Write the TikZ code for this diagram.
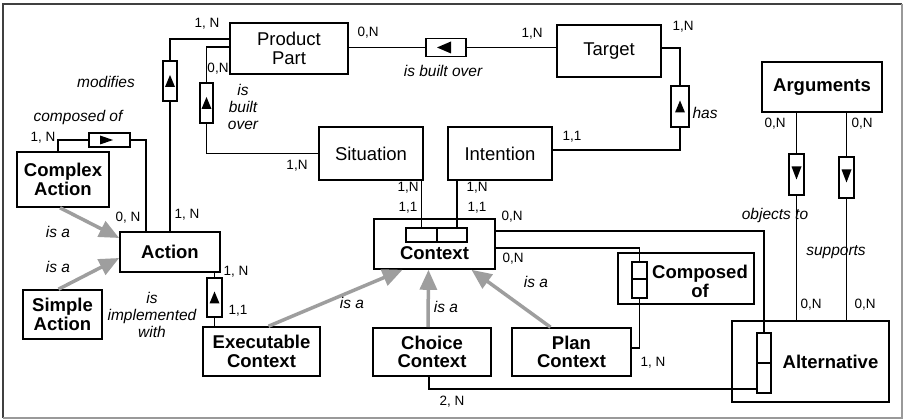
\documentclass[tikz,border=0pt]{standalone}
\usepackage{fontspec}
\setmainfont{Liberation Sans}
\usetikzlibrary{arrows.meta}
\newcommand{\entfont}{\fontsize{18.5}{18.5}\selectfont}
\newcommand{\cardfont}{\fontsize{13.5}{14}\selectfont}
\newcommand{\relfont}{\fontsize{15.5}{17}\selectfont\itshape}

\begin{document}
\begin{tikzpicture}[x=1pt, y=-1pt]
    \tikzstyle{entity} = [draw, line width=1.6pt, inner sep=0pt, align=center, font=\entfont]
    \tikzstyle{bentity} = [entity, font=\entfont\bfseries]
    \tikzstyle{relbox} = [draw, fill=white, line width=1.3pt, inner sep=0pt]
    \tikzstyle{vrel} = [relbox, minimum width=14pt, minimum height=40pt]
    \tikzstyle{hrel} = [relbox, minimum width=40pt, minimum height=18pt]
    \tikzstyle{part} = [draw, line width=1.3pt, inner sep=0pt]
    \tikzstyle{tri up} = [path picture={\fill[black, shift={(path picture bounding box.center)}] (0pt,6pt) -- (5pt,-6pt) -- (-5pt,-6pt) -- cycle;}]
    \tikzstyle{tri down} = [path picture={\fill[black, shift={(path picture bounding box.center)}] (0pt,-5pt) -- (5pt,8pt) -- (-5pt,8pt) -- cycle;}]
    \tikzstyle{tri left} = [path picture={\fill[black, shift={(path picture bounding box.center)}] (-9pt,0pt) -- (5pt,6pt) -- (5pt,-6pt) -- cycle;}]
    \tikzstyle{tri right} = [path picture={\fill[black, shift={(path picture bounding box.center)}] (3.5pt,0pt) -- (-9.5pt,4.5pt) -- (-9.5pt,-4.5pt) -- cycle;}]
    \tikzstyle{card} = [font=\cardfont, inner sep=0pt]
    \tikzstyle{rel} = [font=\relfont, inner sep=0pt, align=center]
    \tikzstyle{link} = [line width=1.2pt]
    \tikzstyle{isa} = [line width=3.5pt, draw=black!38, -{Triangle[length=20pt,width=17pt]}]

    \useasboundingbox (0,0) rectangle (907,419);
    % frame
    \draw [line width=1.6pt, black!75] (3,418) -- (3,4) -- (902,4);
    \draw [line width=1.4pt, black!40] (902,4) -- (902,418) -- (3,418);

    % entities
    \node (prod) [entity, minimum width=118pt, minimum height=51pt] at (289,48.5) {Product\\Part};
    \node (target) [entity, minimum width=104pt, minimum height=52pt] at (609,51) {Target};
    \node (args) [bentity, minimum width=120pt, minimum height=50pt] at (822,87) {Arguments};
    \node (sit) [entity, minimum width=104pt, minimum height=53pt] at (371,153.5) {Situation};
    \node (intent) [entity, minimum width=104pt, minimum height=53pt] at (500,153.5) {Intention};
    \node (complex) [bentity, minimum width=92pt, minimum height=55pt] at (63,179.5) {Complex\\Action};
    \node (action) [bentity, minimum width=100pt, minimum height=40pt] at (170,252) {Action};
    \node (simple) [bentity, minimum width=79pt, minimum height=49pt] at (62.5,314.5) {Simple\\Action};
    \node (exec) [bentity, minimum width=117pt, minimum height=49pt] at (261.5,351.5) {Executable\\Context};
    \node (context) [bentity, minimum width=121pt, minimum height=50pt,
        label={[font=\entfont\bfseries, yshift=-9pt]center:Context}] at (434.5,244) {};
    \node (composed) [bentity, minimum width=136pt, minimum height=51pt,
        label={[font=\entfont\bfseries, align=center, xshift=14pt, yshift=-3pt]center:Composed\\of}] at (686,278.5) {};
    \node (choice) [bentity, minimum width=118pt, minimum height=48pt] at (432,352) {Choice\\Context};
    \node (plan) [bentity, minimum width=119pt, minimum height=48pt] at (571.5,352) {Plan\\Context};
    \node (alt) [bentity, minimum width=157pt, minimum height=81pt,
        label={[font=\entfont\bfseries, xshift=20pt]center:Alternative}] at (810.5,361.5) {};

    % partitions
    \node (ctxs) [part, minimum width=31pt, minimum height=14pt] at (421.5,235) {};
    \node (ctxi) [part, minimum width=30pt, minimum height=14pt] at (452,235) {};
    \node (compu) [part, minimum width=15pt, minimum height=17pt] at (639.5,270.5) {};
    \node (compl) [part, minimum width=15pt, minimum height=19pt] at (639.5,288.5) {};
    \node (altu) [part, minimum width=14pt, minimum height=30pt] at (764,348) {};
    \node (altl) [part, minimum width=14pt, minimum height=30pt] at (764,378) {};
    \coordinate (ix) at ([xshift=5pt]ctxi.north);

    % relationships
    \node (mod) [vrel, tri up] at (170,81) {};
    \node (bov2) [vrel, tri up, minimum width=13pt] at (206.5,103) {};
    \node (bov) [hrel, tri left] at (446,47.5) {};
    \node (has) [vrel, tri up, minimum width=18pt, minimum height=41pt] at (680,106.5) {};
    \node (cof) [hrel, tri right, minimum width=41pt, minimum height=14pt] at (109.5,140) {};
    \node (impl) [vrel, tri up, minimum width=15pt, minimum height=39pt] at (214.5,297.5) {};
    \node (argo) [vrel, tri down, minimum width=15pt, minimum height=41pt] at (796.5,174.5) {};
    \node (argsu) [vrel, tri down, minimum width=15pt, minimum height=41pt] at (846.5,177.5) {};

    \draw [link] ([yshift=9.5pt]prod.west) -| (mod);
    \draw [link] (mod) -- (mod |- action.north);
    \draw [link] ([yshift=1.5pt]prod.west) -| (bov2);
    \draw [link] (bov2) |- (sit.west);
    \draw [link] (prod.east |- bov) -- (bov) -- (target.west |- bov);
    \draw [link] ([yshift=3pt]target.east) -| (has);
    \draw [link] (has) |- ([yshift=3.5pt]intent.east);
    \draw [link] ([xshift=-5pt]complex.north) |- (cof);
    \draw [link] (cof) -| ([xshift=-24pt]action.north);
    \draw [link] (action.south -| impl) -- (impl) -- (exec.north -| impl);
    \draw [link] (sit.south -| ctxs.north) -- (ctxs.north);
    \draw [link] (ix |- intent.south) -- (ix);
    \draw [link] ([yshift=13pt]context.east) -| (altu.north);
    \draw [link] ([yshift=-4pt]context.east) -| (compu.north);
    \draw [link] (compl.south) |- ([yshift=4pt]plan.east);
    \draw [link] ([xshift=-3pt]choice.south) |- ([yshift=-11pt]altl.west);
    \draw [link] (args.south -| argo) -- (argo) -- (alt.north -| argo);
    \draw [link] (args.south -| argsu) -- (argsu) -- (alt.north -| argsu);

    % is a
    \draw [isa] ([xshift=-3pt]complex.south) -- ([yshift=14pt]action.west);
    \draw [isa] ([xshift=-4pt]simple.north) -- ([yshift=-6pt]action.west);
    \draw [isa] ([xshift=7pt]exec.north) -- ([xshift=-32pt]context.south);
    \draw [isa] ([xshift=-4pt]choice.north) -- ([xshift=-6pt]context.south);
    \draw [isa] ([xshift=-21pt]plan.north) -- ([xshift=37pt]context.south);

    % cardinalities
    \node (cmod) [card] at (207,24) {1, N};
    \node (cbov2) [card] at (218,69) {0,N};
    \node (csit) [card] at (297,166) {1,N};
    \node (cprod) [card] at (368,33) {0,N};
    \node (ctgt) [card] at (532,34) {1,N};
    \node (ctgthas) [card] at (683,27) {1,N};
    \node (cint) [card] at (572,137) {1,1};
    \node (cargo) [card] at (775,124) {0,N};
    \node (cargs) [card] at (862,124) {0,N};
    \node (caltaro) [card] at (811,305) {0,N};
    \node (caltars) [card] at (865,305) {0,N};
    \node (ccplx) [card] at (43,138) {1, N};
    \node (cactc) [card] at (128,218) {0, N};
    \node (cactm) [card] at (187,215) {1, N};
    \node (cacti) [card] at (236,272) {1, N};
    \node (cexec) [card] at (238,311) {1,1};
    \node (csit1) [card] at (408,188) {1,N};
    \node (cctx1) [card] at (408,208) {1,1};
    \node (cint1) [card] at (477,188) {1,N};
    \node (cctx2) [card] at (477,208) {1,1};
    \node (cctx3) [card] at (512,217) {0,N};
    \node (cctx4) [card] at (513,259) {0,N};
    \node (cplan) [card] at (653,363) {1, N};
    \node (cchoice) [card] at (452,402) {2, N};

    % relationship names
    \node (lmod) [rel] at (106,82) {modifies};
    \node (lcof) [rel] at (78,117) {composed of};
    \node (lbov2) [rel] at (243,107) {is\\built\\over};
    \node (lbov) [rel] at (443,71) {is built over};
    \node (lhas) [rel] at (705,113) {has};
    \node (largo) [rel] at (775,215) {objects to};
    \node (largs) [rel] at (836,252) {supports};
    \node (limpl) [rel] at (152,315) {is\\implemented\\with};
    \node (lisa1) [rel] at (58,232) {is a};
    \node (lisa2) [rel] at (58,267) {is a};
    \node (lisa3) [rel] at (352,303) {is a};
    \node (lisa4) [rel] at (446,307) {is a};
    \node (lisa5) [rel] at (536,282) {is a};
\end{tikzpicture}
\end{document}
